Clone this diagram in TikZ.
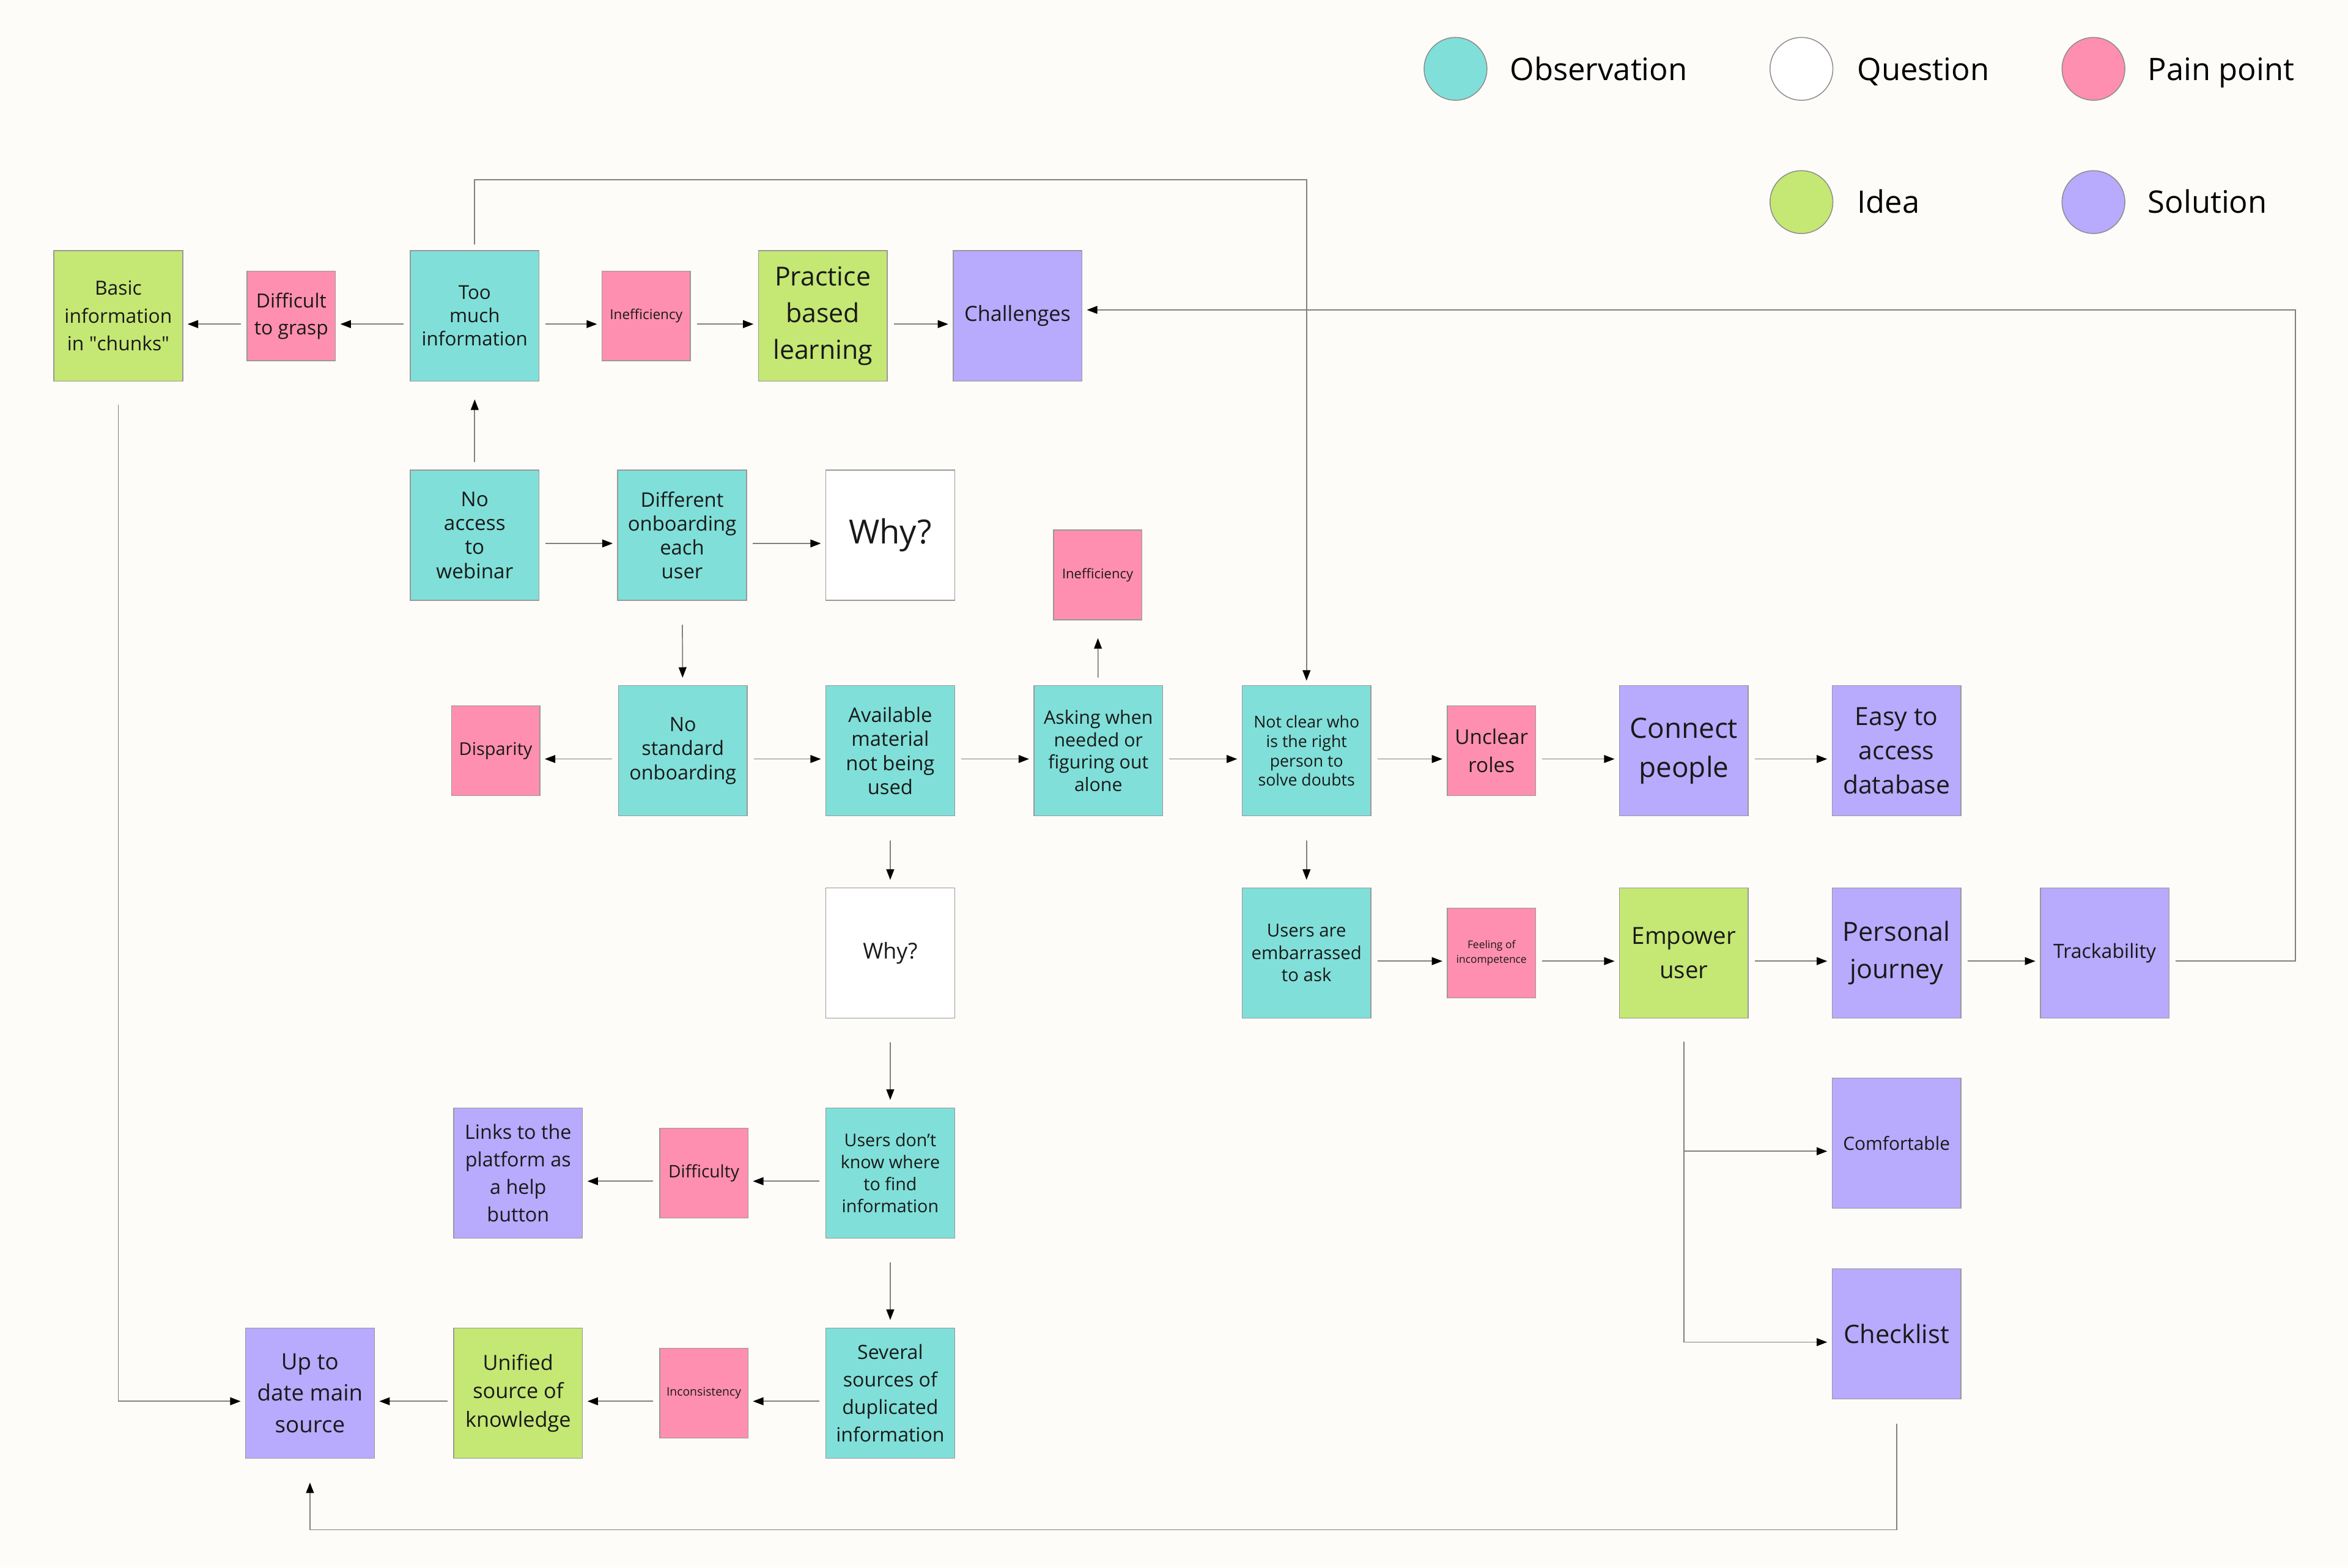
\documentclass[tikz,border=0pt]{standalone}
\usepackage{fontspec}
\setmainfont{Open Sans}
\usepackage{tikz}
\definecolor{Bg}{RGB}{253,252,248}
\definecolor{Obs}{RGB}{128,223,217}
\definecolor{Pain}{RGB}{255,143,176}
\definecolor{Idea}{RGB}{197,231,116}
\definecolor{Sol}{RGB}{184,170,252}
\definecolor{Lnk}{RGB}{128,128,128}
\usetikzlibrary{arrows.meta}
\newcommand{\fsz}[2]{\fontsize{#1}{#2}\selectfont}
\tikzset{
    card/.style={draw=black!40, line width=0.3pt, inner sep=0pt, align=center,
                 minimum width=43pt, minimum height=43.5pt, text=black!90},
    obs/.style={card, fill=Obs},
    qst/.style={card, fill=white},
    idea/.style={card, fill=Idea},
    sol/.style={card, fill=Sol},
    pain/.style={card, fill=Pain, minimum width=29.5pt, minimum height=30pt},
    dot/.style={circle, draw=black!45, line width=0.3pt, minimum size=21pt, inner sep=0pt},
    legtxt/.style={anchor=base west, inner sep=0pt, font=\fsz{10.35}{12}},
    link/.style={draw=Lnk, line width=0.35pt,
                 -{Triangle[length=3.5pt, width=2.6pt, color=black]},
                 shorten <=2pt, shorten >=1.5pt},
    hlink/.style={link, transform canvas={yshift=-2.75pt}},
    vlink/.style={link, shorten <=8pt, shorten >=2.5pt},
    ulink/.style={link, shorten <=2.5pt, shorten >=6pt}
}
\begin{document}
\begin{tikzpicture}[x=0.5pt, y=-0.5pt]
    \fill[Bg] (0,0) rectangle (1568,1047);
    \useasboundingbox (0,0) rectangle (1568,1047);

    % legend
    \node[dot, fill=Obs]   (legobs)  at (972,46)   {};
    \node[legtxt]          at (1008,53.5)  {Observation};
    \node[dot, fill=white] (legqst)  at (1203,46)  {};
    \node[legtxt]          at (1240,53.5)  {Question};
    \node[dot, fill=Pain]  (legpain) at (1398,46)  {};
    \node[legtxt]          at (1434,53.5)  {Pain point};
    \node[dot, fill=Idea]  (legidea) at (1203,135) {};
    \node[legtxt]          at (1240,142.5) {Idea};
    \node[dot, fill=Sol]   (legsol)  at (1398,135) {};
    \node[legtxt]          at (1434,142.5) {Solution};

    % row 1
    \node[idea, font=\fsz{6.5}{9.25}]   (basic)    at (79,211)    {Basic\\information\\in \textquotedbl chunks\textquotedbl};
    \node[pain, font=\fsz{6.5}{9}]      (grasp)    at (194.5,211) {Difficult\\to grasp};
    \node[obs, font=\fsz{6.4}{7.75}]    (toomuch)  at (317,211)   {Too\\much\\information};
    \node[pain, font=\fsz{4.6}{6}]      (ineffA)   at (431.5,211) {Inefficiency};
    \node[idea, font=\fsz{8.75}{12.25}] (practice) at (549.5,211) {Practice\\based\\learning};
    \node[sol, font=\fsz{7}{9}]         (chall)    at (679.5,211) {Challenges};

    % row 2
    \node[obs, font=\fsz{6.8}{8}]   (noaccess)  at (317,357.5)   {No\\access\\to\\webinar};
    \node[obs, font=\fsz{6.7}{8}]   (different) at (455.5,357.5) {Different\\onboarding\\each\\user};
    \node[qst, font=\fsz{11.1}{13}] (whyA)      at (594.5,357.5) {Why?};
    \node[pain, font=\fsz{4.5}{6}]  (ineffB)    at (733,384)     {Inefficiency};

    % row 3
    \node[pain, font=\fsz{5.9}{7}]      (disparity) at (331,501.5)    {Disparity};
    \node[obs, font=\fsz{6.6}{8}]       (nostd)     at (456,501.5)    {No\\standard\\onboarding};
    \node[obs, font=\fsz{6.7}{8}]       (avail)     at (594.5,501.5)  {Available\\material\\not being\\used};
    \node[obs, font=\fsz{6.2}{7.5}]     (asking)    at (733.5,501.5)  {Asking when\\needed or\\figuring out\\alone};
    \node[obs, font=\fsz{5.45}{6.5}]    (notclear)  at (872.5,501.5)  {Not clear who\\is the right\\person to\\solve doubts};
    \node[pain, font=\fsz{6.8}{9.5}]    (unclear)   at (996,501.5)    {Unclear\\roles};
    \node[sol, font=\fsz{9.35}{13}]     (connect)   at (1124.5,501.5) {Connect\\people};
    \node[sol, font=\fsz{8.35}{11.5}]   (easy)      at (1266.5,501.5) {Easy to\\access\\database};

    % row 4
    \node[qst, font=\fsz{7.3}{9}]       (whyB)     at (594.5,636.5)  {Why?};
    \node[obs, font=\fsz{6}{7.5}]       (embar)    at (872.5,636.5)  {Users are\\embarrassed\\to ask};
    \node[pain, font=\fsz{3.55}{5}]     (feeling)  at (996,636.5)    {Feeling of\\incompetence};
    \node[idea, font=\fsz{7.85}{11.5}]  (empower)  at (1124.5,636.5) {Empower\\user};
    \node[sol, font=\fsz{8.8}{12.5}]    (personal) at (1266.5,636.5) {Personal\\journey};
    \node[sol, font=\fsz{6.55}{8}]      (track)    at (1405.5,636.5) {Trackability};

    % row 5
    \node[sol, font=\fsz{6.6}{9.15}]    (links)      at (346,783.5)    {Links to the\\platform as\\a help\\button};
    \node[pain, font=\fsz{5.75}{7}]     (difficulty) at (470,783.5)    {Difficulty};
    \node[obs, font=\fsz{5.85}{7.35}]   (usersdont)  at (594.5,783.5)  {Users don’t\\know where\\to find\\information};
    \node[sol, font=\fsz{6.1}{7.5}]     (comfort)    at (1266.5,763.5) {Comfortable};

    % row 6
    \node[sol, font=\fsz{7.5}{10.5}]    (uptodate)  at (207,930.5)    {Up to\\date main\\source};
    \node[idea, font=\fsz{7}{9.5}]      (unified)   at (346,930.5)    {Unified\\source of\\knowledge};
    \node[pain, font=\fsz{3.95}{5}]     (incons)    at (470,930.5)    {Inconsistency};
    \node[obs, font=\fsz{6.55}{9.15}]   (several)   at (594.5,930.5)  {Several\\sources of\\duplicated\\information};
    \node[sol, font=\fsz{8.5}{10}]      (checklist) at (1266.5,891)   {Checklist};

    % straight links
    \draw[hlink] (toomuch) -- (grasp);
    \draw[hlink] (grasp) -- (basic);
    \draw[hlink] (toomuch) -- (ineffA);
    \draw[hlink] (ineffA) -- (practice);
    \draw[hlink] (practice) -- (chall);
    \draw[ulink] (noaccess) -- (toomuch);
    \draw[hlink] (noaccess) -- (different);
    \draw[hlink] (different) -- (whyA);
    \draw[vlink] (different) -- (nostd);
    \draw[hlink] (nostd) -- (disparity);
    \draw[hlink] (nostd) -- (avail);
    \draw[hlink] (avail) -- (asking);
    \draw[ulink] (asking) -- (ineffB);
    \draw[hlink] (asking) -- (notclear);
    \draw[hlink] (notclear) -- (unclear);
    \draw[hlink] (unclear) -- (connect);
    \draw[hlink] (connect) -- (easy);
    \draw[vlink] (avail) -- (whyB);
    \draw[vlink] (notclear) -- (embar);
    \draw[hlink] (embar) -- (feeling);
    \draw[hlink] (feeling) -- (empower);
    \draw[hlink] (empower) -- (personal);
    \draw[hlink] (personal) -- (track);
    \draw[vlink] (whyB) -- (usersdont);
    \draw[hlink] (usersdont) -- (difficulty);
    \draw[hlink] (difficulty) -- (links);
    \draw[vlink] (usersdont) -- (several);
    \draw[hlink] (several) -- (incons);
    \draw[hlink] (incons) -- (unified);
    \draw[hlink] (unified) -- (uptodate);

    % elbow links
    \draw[link] (toomuch.north) -- ++(0,-47) -| (notclear.north);
    \draw[link] ([yshift=-2.75pt]track.east) -- ++(84,0) |- ([yshift=2pt]chall.east);
    \draw[hlink, shorten <=5pt] (basic.south) |- (uptodate.west);
    \draw[hlink, shorten <=5pt] (empower.south) |- (comfort.west);
    \draw[hlink, shorten <=5pt] (empower.south) |- (checklist.west);
    \draw[link, shorten <=8pt, shorten >=8pt] (checklist.south) -- ++(0,87) -| (uptodate.south);
\end{tikzpicture}
\end{document}
